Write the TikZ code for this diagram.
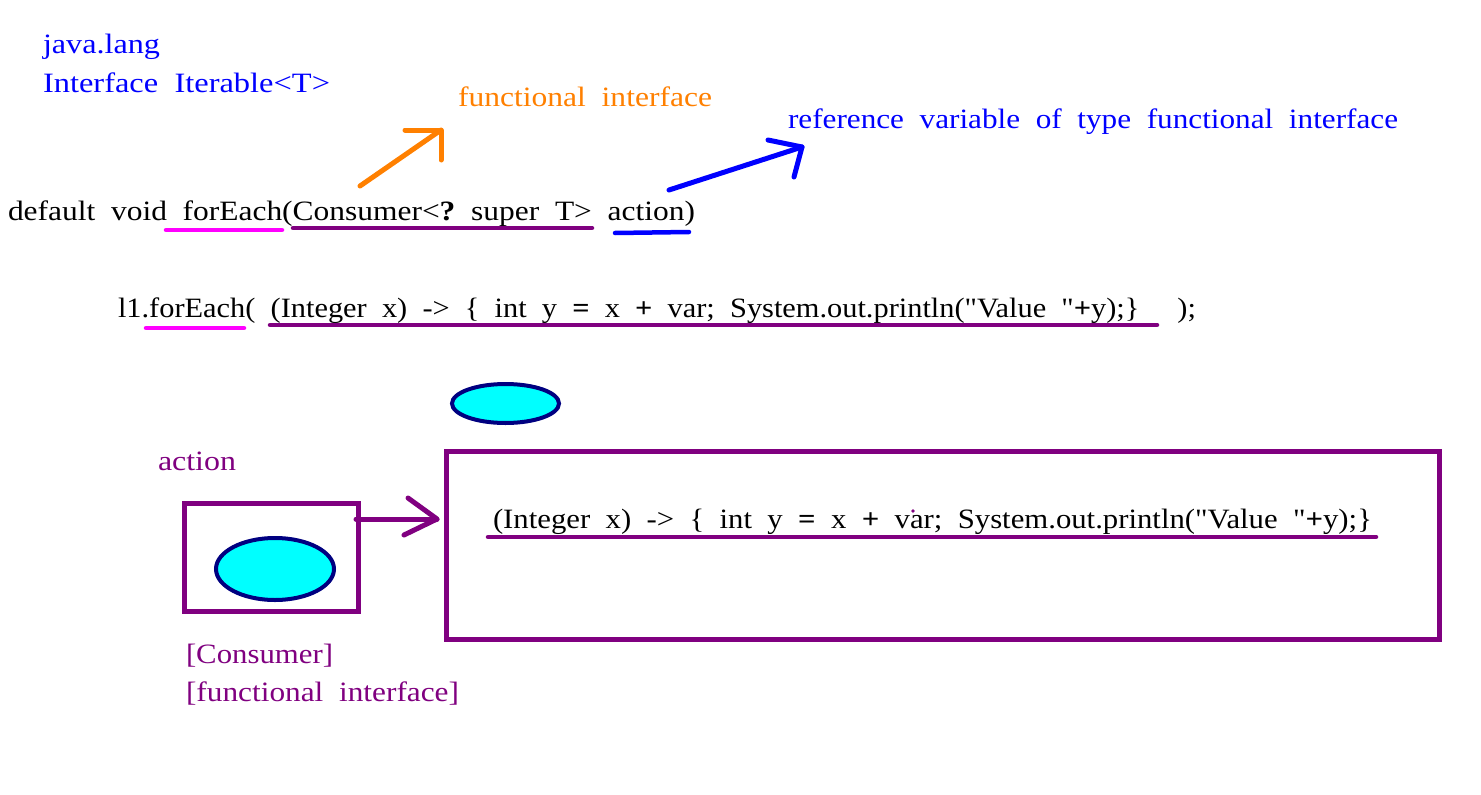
\documentclass[tikz,border=0pt]{standalone}
\usepackage{fontspec}
\setmainfont{Liberation Serif}
\newfontfamily\codefont{Liberation Serif}
\usetikzlibrary{shapes.geometric}
\definecolor{jblue}{RGB}{0,0,255}
\definecolor{jorange}{RGB}{255,128,0}
\definecolor{jmagenta}{RGB}{255,0,255}
\definecolor{jpurple}{RGB}{128,0,128}
\definecolor{jcyan}{RGB}{0,255,255}
\definecolor{jnavy}{RGB}{0,0,128}
\newcommand\fitto[2]{\resizebox{#1pt}{\height}{#2}}
\tikzset{
  txt/.style={anchor=base west, inner sep=0pt, outer sep=0pt,
    font=\fontsize{28}{34}\selectfont},
  code/.style={txt, font=\fontsize{28}{34}\codefont},
  uline/.style={line width=4.5pt, line cap=round},
  pen/.style={line width=5pt, line cap=round, line join=round},
  bubble/.style={ellipse, draw=jnavy, fill=jcyan, line width=4pt, inner sep=0pt},
  frame/.style={rectangle, draw=jpurple, line width=5pt, inner sep=0pt}
}
\begin{document}
\begin{tikzpicture}[x=1pt, y=-1pt]
\useasboundingbox (0,0) rectangle (1481,795);
\fill[white] (0,0) rectangle (1481,795);

% header texts
\node[txt, text=jblue] (pkg) at (43,53) {\fitto{117}{java.lang}};
\node[txt, text=jblue] (iface) at (43,92) {\fitto{287}{Interface\ \ Iterable<T>}};
\node[txt, text=jorange] (fi) at (458,106) {\fitto{254}{functional\ \ interface}};
\node[txt, text=jblue] (refvar) at (788,128) {\fitto{610}{reference\ \ variable\ \ of\ \ type\ \ functional\ \ interface}};

% signature
\node[code] (sig) at (8,220) {\fitto{687}{default\ \ void\ \ forEach(Consumer<\textbf{?}\ \ super\ \ T>\ \ action)}};
\draw[uline, jmagenta] (166,230) coordinate (m1a) -- (282,230) coordinate (m1b);
\draw[uline, jpurple] (293,228) coordinate (p1a) -- (592,228) coordinate (p1b);
\draw[uline, jblue] (615,233) coordinate (b1a) -- (689,232) coordinate (b1b);

% orange arrow
\coordinate (oTail) at (360,186);
\coordinate (oTip) at (441,130);
\coordinate (oL1) at (405,130);
\coordinate (oL2) at (441,160);
\draw[pen, jorange] (oTail) -- (oTip);
\draw[pen, jorange] (oL1) -- (oTip) -- (oL2);

% blue arrow
\coordinate (bTail) at (669,190);
\coordinate (bTip) at (802,147);
\coordinate (bL1) at (768,140);
\coordinate (bL2) at (794,177);
\draw[pen, jblue] (bTail) -- (bTip);
\draw[pen, jblue] (bL1) -- (bTip) -- (bL2);

% call line
\node[code] (call) at (118,317) {\fitto{1078}{l1.forEach(\ \ (Integer\ \ x)\ \ ->\ \ \{\ \ int\ \ y\ \ \textbf{=}\ \ x\ \ \textbf{+}\ \ var;\ \ System.out.println("Value\ \ "\textbf{+}y);\}\ \ \ \ \ );}};
\draw[uline, jmagenta] (146,328) coordinate (m2a) -- (244,328) coordinate (m2b);
\draw[uline, jpurple] (270,325) coordinate (p2a) -- (1157,325) coordinate (p2b);

% top bubble
\node[bubble, minimum width=107pt, minimum height=39pt] (obj) at (505.5,403.5) {};

% action box
\node[txt, text=jpurple] (actlbl) at (158,470) {\fitto{78}{action}};
\node[frame, minimum width=174pt, minimum height=108pt] (abox) at (271,557) {};
\node[bubble, minimum width=118pt, minimum height=62pt] (aobj) at (275,569) {};
\node[txt, text=jpurple] (cons) at (186,663) {\fitto{147}{[Consumer]}};
\node[txt, text=jpurple] (fil) at (186,701) {\fitto{273}{[functional\ \ interface]}};

% big box
\node[frame, minimum width=993pt, minimum height=188pt] (lbox) at (942.5,545) {};
\node[code] (lam) at (493,528) {\fitto{879}{(Integer\ \ x)\ \ ->\ \ \{\ \ int\ \ y\ \ \textbf{=}\ \ x\ \ \textbf{+}\ \ var;\ \ System.out.println("Value\ \ "\textbf{+}y);\}}};
\draw[uline, jpurple] (488,537) coordinate (p3a) -- (1376,537) coordinate (p3b);
\fill[jpurple] (913,511) circle (1.8);

% purple arrow
\coordinate (pTail) at (356,519);
\coordinate (pTip) at (437,519);
\coordinate (pL1) at (408,498);
\coordinate (pL2) at (404,535);
\draw[pen, jpurple] (pTail) -- (pTip);
\draw[pen, jpurple] (pL1) -- (pTip) -- (pL2);
\end{tikzpicture}
\end{document}
